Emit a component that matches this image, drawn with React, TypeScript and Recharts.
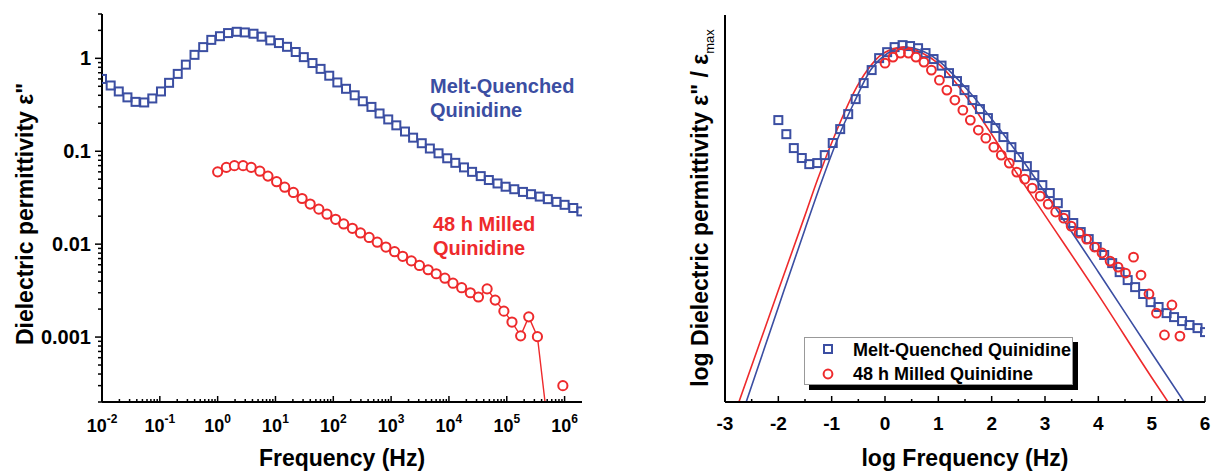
import React from 'react';
import { ComposedChart, Line, XAxis, YAxis, Label, Legend } from 'recharts';

const FONT = '"Liberation Sans", Arial, Helvetica, sans-serif';
const BLUE = '#3b4ea2';
const RED = '#ee2a2c';

// log10(f / Hz) of the sweep points
const sweepLogF = [
  -2.0, -1.85, -1.71, -1.56, -1.42, -1.27, -1.13, -0.98, -0.84, -0.69,
  -0.55, -0.4, -0.25, -0.11, 0.04, 0.18, 0.33, 0.47, 0.62, 0.76,
  0.91, 1.06, 1.2, 1.35, 1.49, 1.64, 1.78, 1.93, 2.07, 2.22,
  2.37, 2.51, 2.66, 2.8, 2.95, 3.09, 3.24, 3.38, 3.53, 3.67,
  3.82, 3.97, 4.11, 4.26, 4.4, 4.55, 4.69, 4.84, 4.98, 5.13,
  5.28, 5.42, 5.57, 5.71, 5.86, 6.0, 6.15, 6.29,
];
// the milled sample was measured from 1 Hz up
const milledLogF = [
  0.0, 0.15, 0.29, 0.44, 0.58, 0.73, 0.87, 1.02, 1.16, 1.31,
  1.46, 1.6, 1.75, 1.89, 2.04, 2.18, 2.33, 2.47, 2.62, 2.76,
  2.91, 3.06, 3.2, 3.35, 3.49, 3.64, 3.78, 3.93, 4.07, 4.22,
  4.37, 4.51, 4.66, 4.8, 4.95, 5.09, 5.24, 5.38, 5.53, 5.67,
  5.82, 5.97,
];

// dielectric loss e'' (left panel)
const meltEps = [
  0.6, 0.51, 0.44, 0.38, 0.34, 0.335, 0.37, 0.44, 0.545, 0.68,
  0.855, 1.09, 1.32, 1.58, 1.73, 1.87, 1.93, 1.9, 1.84, 1.71,
  1.56, 1.46, 1.33, 1.17, 1.03, 0.89, 0.77, 0.65, 0.55, 0.47,
  0.4, 0.345, 0.3, 0.255, 0.22, 0.19, 0.163, 0.14, 0.122, 0.107,
  0.095, 0.084, 0.075, 0.067, 0.06, 0.054, 0.049, 0.045, 0.0415, 0.039,
  0.0365, 0.0345, 0.0325, 0.0305, 0.0285, 0.0265, 0.0245, 0.0225,
];
const milledEps = [
  0.06, 0.067, 0.07, 0.07, 0.067, 0.061, 0.054, 0.047, 0.041, 0.036,
  0.031, 0.027, 0.0238, 0.021, 0.0185, 0.0165, 0.0148, 0.0132, 0.0118, 0.0105,
  0.0093, 0.0083, 0.0074, 0.0066, 0.0059, 0.0053, 0.0048, 0.0043, 0.0038, 0.0034,
  0.003, 0.0027, 0.0033, 0.0025, 0.0019, 0.00145, 0.00103, 0.00165, 0.00101, 0.00018,
  null, 0.0003,
];

// log(e''/e_max) (right panel)
const meltNorm = [
  -0.477, -0.569, -0.66, -0.725, -0.765, -0.758, -0.706, -0.627, -0.536, -0.438,
  -0.34, -0.235, -0.15, -0.072, -0.033, 0.0, 0.013, 0.007, -0.007, -0.039,
  -0.078, -0.121, -0.17, -0.222, -0.281, -0.346, -0.405, -0.464, -0.529, -0.588,
  -0.654, -0.719, -0.778, -0.837, -0.902, -0.954, -1.02, -1.098, -1.15, -1.209,
  -1.255, -1.307, -1.359, -1.412, -1.471, -1.523, -1.569, -1.614, -1.667, -1.699,
  -1.739, -1.765, -1.791, -1.817, -1.837, -1.863,
];
const milledNorm = [
  -0.105, -0.065, -0.039, -0.039, -0.065, -0.098, -0.15, -0.216, -0.281, -0.346,
  -0.412, -0.477, -0.542, -0.595, -0.654, -0.706, -0.758, -0.817, -0.863, -0.922,
  -0.974, -1.026, -1.078, -1.118, -1.17, -1.216, -1.255, -1.307, -1.346, -1.399,
  -1.438, -1.477, -1.373, -1.49, -1.614, -1.739, -1.882, -1.686, -1.889,
];

// fitted curves (right panel)
const meltFitLogF = [-2.7, -2.0, -1.5, -1.18, -0.84, -0.59, -0.27, 0.05, 0.35, 0.67, 0.99, 1.29, 1.6, 2.0, 2.5, 3.0, 4.0, 5.0, 5.8];
const meltFitNorm = [-2.42, -1.7, -1.19, -0.87, -0.56, -0.37, -0.15, -0.04, 0.0, -0.02, -0.085, -0.183, -0.3, -0.47, -0.7, -0.95, -1.47, -2.0, -2.42];
const milledFitLogF = [-2.8, -2.0, -1.5, -1.27, -0.9, -0.59, -0.33, -0.03, 0.35, 0.67, 0.99, 1.29, 1.6, 2.0, 2.5, 3.0, 4.0, 5.0, 5.5];
const milledFitNorm = [-2.38, -1.59, -1.1, -0.87, -0.54, -0.3, -0.15, -0.04, 0.0, -0.033, -0.105, -0.216, -0.36, -0.57, -0.84, -1.1, -1.62, -2.16, -2.42];

const seriesNames = ['Melt-Quenched Quinidine', '48 h Milled Quinidine'];

// axis ticks
const decades = [-2, -1, 0, 1, 2, 3, 4, 5, 6];
const minorSteps = [2, 3, 4, 5, 6, 7, 8, 9];
const epsMajor = [0.001, 0.01, 0.1, 1];
const epsMajorLabels = ['0.001', '0.01', '0.1', '1'];
const rightTicks = [-3, -2.5, -2, -1.5, -1, -0.5, 0, 0.5, 1, 1.5, 2, 2.5, 3, 3.5, 4, 4.5, 5, 5.5, 6];

const LOGF_MAX = 6.301;
const EPS_MIN = 2e-4;
const EPS_MAX = 3;

const leftXTicks: number[] = [];
decades.forEach((d) => {
  leftXTicks.push(d);
  minorSteps.forEach((m) => {
    const t = d + Math.log10(m);
    if (t <= LOGF_MAX) leftXTicks.push(t);
  });
});
const leftYTicks: number[] = [];
[-4, -3, -2, -1, 0].forEach((n) => {
  [1, ...minorSteps].forEach((m) => {
    const t = Number((m * Math.pow(10, n)).toPrecision(3));
    if (t >= EPS_MIN && t <= EPS_MAX) leftYTicks.push(t);
  });
});

const toPoints = (xs: number[], ys: (number | null)[]) => ys.map((y, i) => ({ x: xs[i], y }));

const meltLeft = toPoints(sweepLogF, meltEps);
const milledLeft = toPoints(milledLogF, milledEps);
const meltRight = toPoints(sweepLogF, meltNorm);
const milledRight = toPoints(milledLogF, milledNorm);
const meltFit = toPoints(meltFitLogF, meltFitNorm);
const milledFit = toPoints(milledFitLogF, milledFitNorm);

const boldText = { fontFamily: FONT, fontWeight: 'bold' as const, fill: '#000' };

const squareDot = (p: any) => {
  const { cx, cy, index } = p;
  if (cx == null || cy == null) return <g key={`s${index}`} />;
  return <rect key={`s${index}`} x={cx - 4} y={cy - 4} width={8} height={8} fill="none" stroke={BLUE} strokeWidth={2} />;
};

const circleDot = (fill: string, minY: number, r: number) => (p: any) => {
  const { cx, cy, index, payload } = p;
  if (cx == null || cy == null || payload.y == null || payload.y < minY) return <g key={`c${index}`} />;
  return <circle key={`c${index}`} cx={cx} cy={cy} r={r} fill={fill} stroke={RED} strokeWidth={2} />;
};

const LeftXTick = (props: any) => {
  const { x, y, payload } = props;
  const v = payload.value;
  const major = Math.abs(v - Math.round(v)) < 1e-6;
  return (
    <g>
      <line x1={x} x2={x} y1={y} y2={y - (major ? 6 : 3)} stroke="#000" strokeWidth={1.5} />
      {major && (
        <text x={x} y={y + 30} textAnchor="middle" fontSize={18} {...boldText}>
          <tspan>10</tspan>
          <tspan dy={-9} fontSize={12}>{Math.round(v)}</tspan>
        </text>
      )}
    </g>
  );
};

const LeftYTick = (props: any) => {
  const { x, y, payload } = props;
  const v = payload.value;
  const idx = epsMajor.findIndex((m) => Math.abs(Math.log10(m) - Math.log10(v)) < 1e-6);
  const major = idx >= 0;
  return (
    <g>
      <line x1={x} x2={x - (major ? 7 : 4)} y1={y} y2={y} stroke="#000" strokeWidth={1.5} />
      {major && (
        <text x={x - 11} y={y + 7} textAnchor="end" fontSize={20} {...boldText}>
          {epsMajorLabels[idx]}
        </text>
      )}
    </g>
  );
};

const RightXTick = (props: any) => {
  const { x, y, payload } = props;
  const v = payload.value;
  const major = Number.isInteger(v);
  return (
    <g>
      <line x1={x} x2={x} y1={y} y2={y - (major ? 6 : 3)} stroke="#000" strokeWidth={1.5} />
      {major && (
        <text x={x} y={y + 28} textAnchor="middle" fontSize={19} {...boldText}>
          {v}
        </text>
      )}
    </g>
  );
};

const frame = { stroke: '#000', strokeWidth: 2 };

const LegendBox = () => (
  <div
    style={{
      position: 'relative',
      width: 269,
      height: 48,
      boxSizing: 'border-box',
      border: '1px solid #999',
      background: '#fff',
      boxShadow: '5px 5px 0 #000',
      fontFamily: FONT,
      fontWeight: 'bold',
      fontSize: 18,
      color: '#000',
    }}
  >
    {seriesNames.map((name, i) => (
      <div key={name} style={{ position: 'absolute', left: 0, top: i === 0 ? 0 : 24, height: 24, width: 268 }}>
        <svg width={40} height={24} style={{ position: 'absolute', left: 3, top: 0 }}>
          {i === 0 ? (
            <rect x={16} y={7} width={8} height={8} fill="none" stroke={BLUE} strokeWidth={2} />
          ) : (
            <circle cx={20} cy={12} r={4.4} fill="none" stroke={RED} strokeWidth={2} />
          )}
        </svg>
        <span style={{ position: 'absolute', left: 48, top: 1, lineHeight: '22px', whiteSpace: 'nowrap' }}>{name}</span>
      </div>
    ))}
  </div>
);

const Note = ({ left, top, color, lines }: { left: number; top: number; color: string; lines: string[] }) => (
  <div
    style={{
      position: 'absolute',
      left,
      top,
      color,
      fontFamily: FONT,
      fontWeight: 'bold',
      fontSize: 20,
      lineHeight: '24px',
      whiteSpace: 'nowrap',
    }}
  >
    {lines.map((l) => (
      <div key={l}>{l}</div>
    ))}
  </div>
);

const EpsChart = () => (
  <div style={{ position: 'absolute', left: 0, top: 0, width: 600, height: 473 }}>
    <ComposedChart width={600} height={473} margin={{ top: 14, right: 18, left: 0, bottom: 0 }}>
      <XAxis
        dataKey="x"
        type="number"
        domain={[-2, LOGF_MAX]}
        allowDataOverflow
        ticks={leftXTicks}
        interval={0}
        tick={(p: any) => <LeftXTick {...p} />}
        tickLine={false}
        tickSize={0}
        tickMargin={0}
        height={71}
        axisLine={frame}
      >
        <Label
          content={() => (
            <text x={342} y={466} textAnchor="middle" fontSize={23} {...boldText}>
              Frequency (Hz)
            </text>
          )}
        />
      </XAxis>
      <XAxis xAxisId="top" orientation="top" type="number" domain={[-2, LOGF_MAX]} height={0} tick={false} tickLine={false} axisLine={frame} />
      <YAxis
        type="number"
        scale="log"
        domain={[EPS_MIN, EPS_MAX]}
        allowDataOverflow
        ticks={leftYTicks}
        interval={0}
        tick={(p: any) => <LeftYTick {...p} />}
        tickLine={false}
        tickSize={0}
        tickMargin={0}
        width={102}
        axisLine={frame}
      >
        <Label
          content={() => (
            <text transform="translate(33,214) rotate(-90)" textAnchor="middle" fontSize={23} {...boldText}>
              Dielectric permittivity ε"
            </text>
          )}
        />
      </YAxis>
      <YAxis yAxisId="right" orientation="right" type="number" domain={[0, 1]} width={0} tick={false} tickLine={false} axisLine={frame} />
      <Line data={meltLeft} dataKey="y" stroke="none" dot={squareDot} activeDot={false} isAnimationActive={false} />
      <Line
        data={milledLeft}
        dataKey="y"
        stroke={RED}
        strokeWidth={1.4}
        dot={circleDot('#fff', EPS_MIN, 4.6)}
        activeDot={false}
        isAnimationActive={false}
      />
    </ComposedChart>
    <Note left={430} top={74} color={BLUE} lines={['Melt-Quenched', 'Quinidine']} />
    <Note left={433} top={212} color={RED} lines={['48 h Milled', 'Quinidine']} />
  </div>
);

const NormChart = () => (
  <div style={{ position: 'absolute', left: 620, top: 0, width: 591, height: 473 }}>
    <ComposedChart width={591} height={473} margin={{ top: 15, right: 6, left: 0, bottom: 0 }}>
      <XAxis
        dataKey="x"
        type="number"
        domain={[-3, 6]}
        allowDataOverflow
        ticks={rightTicks}
        interval={0}
        tick={(p: any) => <RightXTick {...p} />}
        tickLine={false}
        tickSize={0}
        tickMargin={0}
        height={71}
        axisLine={frame}
      >
        <Label
          content={() => (
            <text x={345} y={466} textAnchor="middle" fontSize={23} {...boldText}>
              log Frequency (Hz)
            </text>
          )}
        />
      </XAxis>
      <XAxis xAxisId="top" orientation="top" type="number" domain={[-3, 6]} height={0} tick={false} tickLine={false} axisLine={frame} />
      <YAxis
        type="number"
        domain={[-2.32, 0.21]}
        allowDataOverflow
        tick={false}
        tickLine={false}
        width={105}
        axisLine={frame}
      >
        <Label
          content={() => (
            <text transform="translate(88,208) rotate(-90)" textAnchor="middle" fontSize={23} {...boldText}>
              <tspan>log Dielectric permittivity ε" / ε</tspan>
              <tspan dy={6} fontSize={13} fontWeight="normal">max</tspan>
            </text>
          )}
        />
      </YAxis>
      <YAxis yAxisId="right" orientation="right" type="number" domain={[0, 1]} width={0} tick={false} tickLine={false} axisLine={frame} />
      <Line data={meltRight} dataKey="y" stroke="none" dot={squareDot} activeDot={false} isAnimationActive={false} />
      <Line data={milledRight} dataKey="y" stroke="none" dot={circleDot('none', -10, 4.4)} activeDot={false} isAnimationActive={false} />
      <Line data={meltFit} dataKey="y" type="monotone" stroke={BLUE} strokeWidth={1.6} dot={false} activeDot={false} isAnimationActive={false} />
      <Line data={milledFit} dataKey="y" type="monotone" stroke={RED} strokeWidth={1.6} dot={false} activeDot={false} isAnimationActive={false} />
      <Legend
        layout="horizontal"
        verticalAlign="middle"
        align="center"
        content={() => <LegendBox />}
        wrapperStyle={{ left: 184, top: 337, width: 275, height: 54 }}
      />
    </ComposedChart>
  </div>
);

export default function App() {
  return (
    <div style={{ position: 'absolute', left: 0, top: 0, width: 1211, height: 473, background: '#fff' }}>
      <EpsChart />
      <NormChart />
    </div>
  );
}
